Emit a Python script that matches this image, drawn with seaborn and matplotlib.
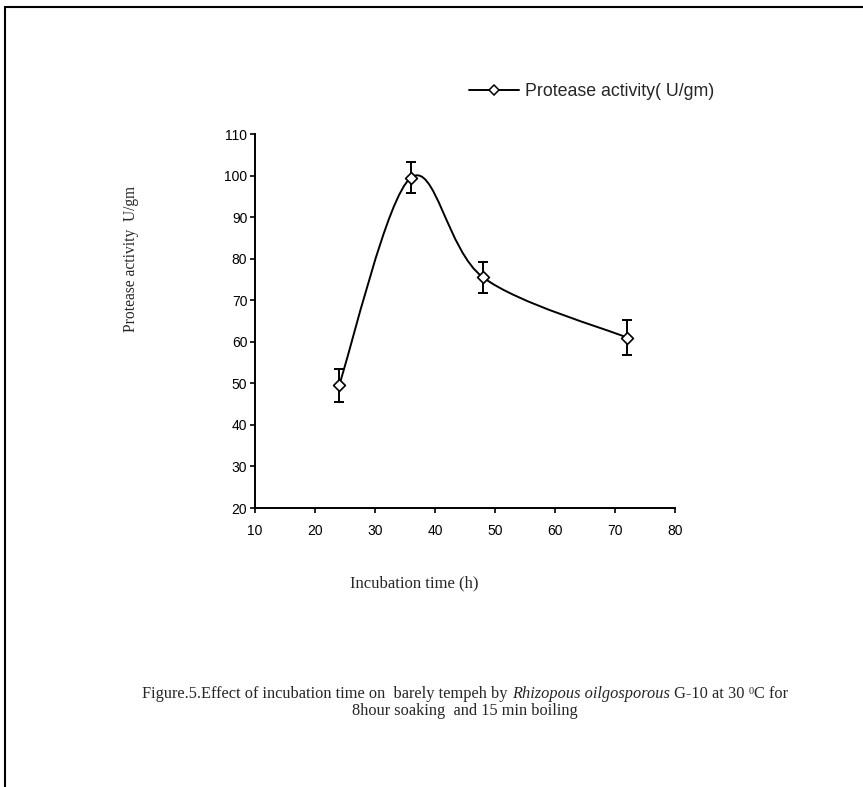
import matplotlib
matplotlib.use("Agg")
import matplotlib.pyplot as plt
from matplotlib.lines import Line2D
from matplotlib.path import Path
from matplotlib.patches import PathPatch
import numpy as np
import pandas as pd
import seaborn as sns

# data
hours = [24, 36, 48, 72]
activity = [49.5, 99.5, 75.5, 61.0]
errors = [4.0, 3.8, 3.8, 4.2]

x_ticks = [10, 20, 30, 40, 50, 60, 70, 80]
y_ticks = [20, 30, 40, 50, 60, 70, 80, 90, 100, 110]

legend_label = "Protease activity( U/gm)"
x_label = "Incubation time (h)"
y_label = "Protease activity  U/gm"

df = pd.DataFrame({"time": hours, "activity": activity, "err": errors})

sns.set_style("ticks")
plt.rcParams["font.family"] = ["Liberation Sans", "DejaVu Sans"]

W, H = 863, 787
fig = plt.figure(figsize=(W / 100, H / 100), dpi=100)
ax = fig.add_axes([255 / W, 1 - 508 / H, 420 / W, 374 / H])


def smooth_path(xs, ys):
    # excel-like smoothed line: cubic bezier segments, catmull-rom tangents
    pts = np.column_stack([xs, ys]).astype(float)
    n = len(pts)
    verts = [pts[0]]
    codes = [Path.MOVETO]
    for i in range(n - 1):
        p0 = pts[i - 1] if i > 0 else pts[i]
        p1 = pts[i]
        p2 = pts[i + 1]
        p3 = pts[i + 2] if i + 2 < n else pts[i + 1]
        c1 = p1 + (p2 - p0) / 6
        c2 = p2 - (p3 - p1) / 6
        verts += [c1, c2, p2]
        codes += [Path.CURVE4] * 3
    return Path(verts, codes)


ax.add_patch(PathPatch(smooth_path(df["time"], df["activity"]), fill=False,
                       edgecolor="black", lw=1.4, zorder=2))

ax.errorbar(df["time"], df["activity"], yerr=df["err"], fmt="none",
            ecolor="black", elinewidth=1.4, capsize=3.6, capthick=1.4, zorder=3)

sns.scatterplot(data=df, x="time", y="activity", marker="D", s=36,
                color="white", edgecolor="black", linewidth=1.2, zorder=4, ax=ax)

ax.set_xlim(10, 80)
ax.set_ylim(20, 110)
ax.set_xticks(x_ticks)
ax.set_yticks(y_ticks)
ax.tick_params(direction="out", length=3.5, width=1.2, labelsize=10,
               colors="black", pad=2)
ax.tick_params(axis="x", pad=8)
sns.despine(ax=ax)
for side in ["left", "bottom"]:
    ax.spines[side].set_linewidth(1.4)
    ax.spines[side].set_color("black")
ax.set_xlabel("")
ax.set_ylabel("")

serif = ["Liberation Serif", "DejaVu Serif"]
fig.text(131 / W, 1 - 259 / H, y_label, rotation=90, ha="center", va="center",
         fontsize=11.2, family=serif)
fig.text(414 / W, 1 - 583 / H, x_label, ha="center", va="center",
         fontsize=12, family=serif)

# legend above the plot
handle = Line2D([], [], color="black", lw=1.4, marker="D", markersize=5,
                markerfacecolor="white", markeredgecolor="black", markeredgewidth=1.1)
fig.legend([handle], [legend_label], loc="center left",
           bbox_to_anchor=(462 / W, 1 - 92 / H), frameon=False, fontsize=12.8,
           handlelength=2.8, handletextpad=0.35, borderaxespad=0)

# caption with italic species name and superscript
cap_size = 11.8
cap_parts = [
    ("Figure.5.Effect of incubation time on  barely tempeh by ", "normal", cap_size, 0),
    ("Rhizopous oilgosporous", "italic", cap_size, 0),
    (" G-10 at 30 ", "normal", cap_size, 0),
    ("0", "normal", 7.5, 4),
    ("C for", "normal", cap_size, 0),
]
renderer = fig.canvas.get_renderer()
texts = []
for s, style, size, _ in cap_parts:
    t = fig.text(0, 0, s, fontsize=size, style=style, family=serif,
                 ha="left", va="baseline")
    texts.append(t)
widths = [t.get_window_extent(renderer).width for t in texts]
x0 = 465 - sum(widths) / 2
y_base = 698
for t, w, (_, _, _, dy) in zip(texts, widths, cap_parts):
    t.set_position((x0 / W, 1 - (y_base - dy) / H))
    x0 += w
fig.text(465 / W, 1 - 715 / H, "8hour soaking  and 15 min boiling",
         fontsize=cap_size, family=serif, ha="center", va="baseline")

# page frame (top and left edges only)
fig.add_artist(Line2D([5 / W, 1], [1 - 7 / H, 1 - 7 / H], color="black", lw=1.5))
fig.add_artist(Line2D([5 / W, 5 / W], [0, 1 - 7 / H], color="black", lw=1.5))

fig.savefig("out.png", dpi=100, facecolor="white")
